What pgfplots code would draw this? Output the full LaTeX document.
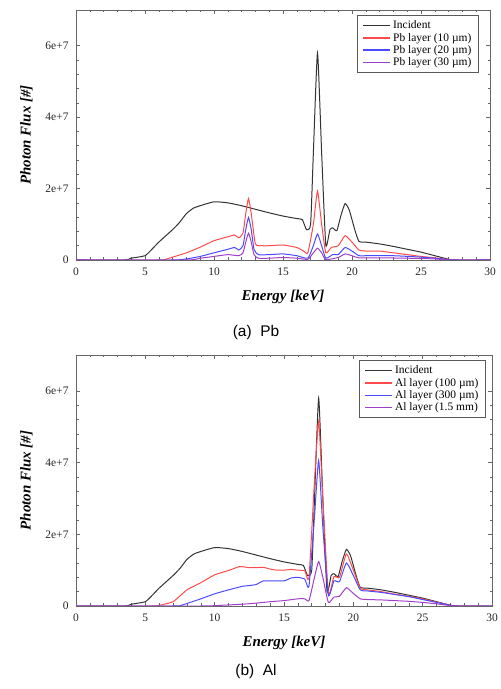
\documentclass[border=0pt]{standalone}
\usepackage{fontspec}
\setmainfont{Liberation Serif}
\newfontfamily\capfont{Liberation Sans}
\usepackage{pgfplots}
\pgfplotsset{compat=1.18}
\definecolor{cInc}{HTML}{333333}
\definecolor{cRed}{HTML}{FF4A4A}
\definecolor{cBlue}{HTML}{4A4AFF}
\definecolor{cPur}{HTML}{A040C8}
\pgfplotsset{
  myax/.style={
    scale only axis, width=414bp, height=250bp,
    xmin=0, xmax=30, ymin=0, ymax=7e7,
    xtick={0,5,...,30}, minor x tick num=4,
    ytick={0,2e7,4e7,6e7}, yticklabels={0,2e+7,4e+7,6e+7},
    scaled y ticks=false,
    minor y tick num=4,
    tick align=inside,
    major tick length=4bp, minor tick length=2.5bp,
    axis line style={draw=gray!80!black, line width=0.8pt},
    every tick/.style={draw=gray!80!black, line width=0.6pt},
    /pgf/number format/assume math mode=true,
    tick label style={font=\fontsize{11.5}{12}\selectfont, text=black!85},
    xticklabel style={yshift=-4bp},
    yticklabel style={xshift=-4bp},
    xlabel={\textbf{\textit{Energy [keV]}}},
    ylabel={\textbf{\textit{Photon Flux [\#]}}},
    label style={font=\fontsize{15}{16}\selectfont},
    xlabel style={yshift=-8bp},
    ylabel style={yshift=6bp},
    legend cell align=left,
    legend style={font=\fontsize{11.5}{13}\selectfont, draw=gray!70!black, line width=1.3pt,
      anchor=north east, inner xsep=5bp, inner ysep=3bp, row sep=-1.5bp,
      nodes={inner ysep=2.2bp}},
    every axis plot/.append style={line width=1pt, smooth, tension=0.3},
    every axis legend/.append style={/tikz/every even column/.append style={column sep=2bp}},
    legend image code/.code={\draw[#1,sharp plot,line width=1.5pt] (0bp,0bp) -- (27bp,0bp);},
  }
}
\begin{document}
\begin{tikzpicture}[x=1bp,y=1bp]
\useasboundingbox (0,0) rectangle (501,689);
% ---------------- (a) Pb
\begin{axis}[myax, at={(76bp,429bp)}, anchor=south west,
  legend style={at={(1,1)}, xshift=-11bp, yshift=-5bp}]
\addplot[cInc] coordinates {
(0,0)(3.5,0)(4,0.05e7)(5,0.12e7)(5.5,0.3e7)(6,0.5e7)(7,0.85e7)(7.5,1.05e7)(8,1.3e7)(8.5,1.45e7)(9,1.52e7)(10,1.63e7)(11,1.6e7)(12,1.52e7)(13,1.42e7)(14,1.32e7)(15,1.23e7)(16,1.16e7)(16.4,1.13e7)(16.7,0.85e7)(17.0,1.0e7)(17.2,3.0e7)(17.5,5.8e7)(17.8,3.0e7)(18.1,0.42e7)(18.4,0.85e7)(18.6,0.9e7)(18.9,0.82e7)(19.2,1.25e7)(19.5,1.58e7)(19.8,1.4e7)(20.2,0.85e7)(20.5,0.52e7)(21,0.5e7)(22,0.45e7)(23,0.38e7)(24,0.3e7)(25,0.22e7)(26,0.12e7)(27,0.02e7)(27.5,0)(30,0)};
\addplot[cRed] coordinates {
(0,0)(6,0)(6.5,0.02e7)(7,0.08e7)(8,0.2e7)(9,0.36e7)(10,0.54e7)(11,0.65e7)(11.5,0.7e7)(11.8,0.62e7)(12.1,0.75e7)(12.3,1.3e7)(12.5,1.72e7)(12.7,1.3e7)(13,0.45e7)(13.5,0.4e7)(14,0.4e7)(15,0.42e7)(16,0.35e7)(16.5,0.25e7)(16.8,0.2e7)(17.2,1.0e7)(17.5,1.93e7)(17.8,1.0e7)(18.1,0.2e7)(18.5,0.35e7)(19,0.4e7)(19.5,0.68e7)(20,0.5e7)(20.5,0.28e7)(21,0.25e7)(22,0.25e7)(23,0.2e7)(24,0.15e7)(25,0.1e7)(26,0.06e7)(27,0.01e7)(27.5,0)(30,0)};
\addplot[cBlue] coordinates {
(0,0)(7,0)(8,0.03e7)(9,0.1e7)(10,0.2e7)(11,0.3e7)(11.5,0.35e7)(11.8,0.28e7)(12.1,0.4e7)(12.3,0.85e7)(12.5,1.19e7)(12.7,0.85e7)(12.9,0.3e7)(13.2,0.15e7)(14,0.15e7)(15,0.17e7)(16,0.12e7)(16.8,0.05e7)(17.2,0.4e7)(17.5,0.73e7)(17.8,0.4e7)(18.1,0.05e7)(18.6,0.15e7)(19,0.15e7)(19.5,0.35e7)(20,0.25e7)(20.5,0.12e7)(21,0.12e7)(23,0.12e7)(25,0.08e7)(26,0.05e7)(27,0.01e7)(27.5,0)(30,0)};
\addplot[cPur] coordinates {
(0,0)(8,0)(9,0.05e7)(10,0.1e7)(11,0.15e7)(11.8,0.12e7)(12.1,0.2e7)(12.3,0.5e7)(12.5,0.75e7)(12.7,0.5e7)(12.9,0.15e7)(13.2,0.05e7)(14,0.05e7)(15,0.07e7)(16,0.05e7)(16.8,0.02e7)(17.2,0.2e7)(17.5,0.33e7)(17.8,0.2e7)(18.1,0.01e7)(19,0.07e7)(19.5,0.17e7)(20,0.12e7)(20.5,0.06e7)(22,0.06e7)(24,0.05e7)(26,0.03e7)(27,0)(30,0)};
\legend{Incident, Pb layer (10 µm), Pb layer (20 µm), Pb layer (30 µm)}
\end{axis}
% ---------------- (b) Al
\begin{axis}[myax, at={(76bp,83bp)}, anchor=south west, width=416bp, height=251bp,
  legend style={at={(1,1)}, xshift=-6bp, yshift=-5bp}]
\addplot[cInc] coordinates {
(0,0)(3.5,0)(4,0.05e7)(5,0.12e7)(5.5,0.3e7)(6,0.5e7)(7,0.85e7)(7.5,1.05e7)(8,1.3e7)(8.5,1.45e7)(9,1.52e7)(10,1.63e7)(11,1.6e7)(12,1.52e7)(13,1.42e7)(14,1.32e7)(15,1.23e7)(16,1.16e7)(16.4,1.13e7)(16.7,0.85e7)(17.0,1.0e7)(17.2,3.0e7)(17.5,5.8e7)(17.8,3.0e7)(18.1,0.42e7)(18.4,0.85e7)(18.6,0.9e7)(18.9,0.82e7)(19.2,1.25e7)(19.5,1.58e7)(19.8,1.4e7)(20.2,0.85e7)(20.5,0.52e7)(21,0.5e7)(22,0.45e7)(23,0.38e7)(24,0.3e7)(25,0.22e7)(26,0.12e7)(27,0.02e7)(27.5,0)(30,0)};
\addplot[cRed] coordinates {
(0,0)(5.5,0)(6,0.02e7)(7,0.12e7)(8,0.45e7)(9,0.65e7)(10,0.87e7)(11,0.99e7)(11.8,1.1e7)(12.5,1.07e7)(13,1.07e7)(13.5,1.08e7)(14,1.03e7)(14.5,1.0e7)(15,1.0e7)(15.5,1.02e7)(16,1.0e7)(16.5,0.98e7)(16.8,0.8e7)(17.2,3.5e7)(17.5,5.16e7)(17.8,3.0e7)(18.2,0.35e7)(18.6,0.82e7)(19,0.8e7)(19.5,1.45e7)(20,1.0e7)(20.5,0.5e7)(21,0.45e7)(22,0.4e7)(23,0.33e7)(24,0.27e7)(25,0.2e7)(26,0.11e7)(27,0.02e7)(27.5,0)(30,0)};
\addplot[cBlue] coordinates {
(0,0)(7,0)(7.5,0.01e7)(8,0.07e7)(9,0.2e7)(10,0.34e7)(11,0.45e7)(12,0.55e7)(12.5,0.57e7)(13,0.6e7)(13.5,0.7e7)(14,0.7e7)(15,0.7e7)(15.5,0.78e7)(16,0.8e7)(16.5,0.75e7)(16.8,0.55e7)(17.2,2.5e7)(17.5,4.06e7)(17.8,2.2e7)(18.2,0.3e7)(18.6,0.7e7)(19,0.68e7)(19.5,1.2e7)(20,0.85e7)(20.5,0.45e7)(21,0.42e7)(22,0.38e7)(23,0.32e7)(24,0.26e7)(25,0.18e7)(26,0.1e7)(27,0.02e7)(27.5,0)(30,0)};
\addplot[cPur] coordinates {
(0,0)(9,0)(10,0.01e7)(11,0.03e7)(12,0.05e7)(13,0.08e7)(14,0.12e7)(15,0.15e7)(16,0.2e7)(16.5,0.2e7)(16.8,0.15e7)(17.2,0.8e7)(17.5,1.24e7)(17.8,0.8e7)(18.2,0.1e7)(18.6,0.25e7)(19,0.27e7)(19.5,0.51e7)(20,0.35e7)(20.5,0.2e7)(21,0.18e7)(22,0.17e7)(23,0.15e7)(24,0.13e7)(25,0.1e7)(26,0.06e7)(27,0.01e7)(27.5,0)(30,0)};
\legend{Incident, Al layer (100 µm), Al layer (300 µm), Al layer (1.5 mm)}
\end{axis}
\node[font=\capfont\fontsize{15.5}{17}\selectfont] at (256,356) {(a)\ \ Pb};
\node[font=\capfont\fontsize{15.5}{17}\selectfont] at (256,17) {(b)\ \ Al};
\end{tikzpicture}
\end{document}
